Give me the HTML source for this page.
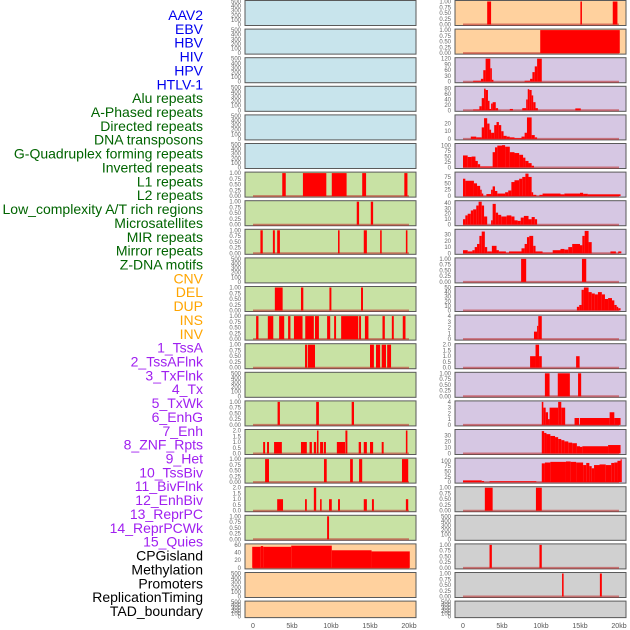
<!DOCTYPE html>
<html><head><meta charset="utf-8"><style>
html,body{margin:0;padding:0;background:#fff;width:630px;height:630px;overflow:hidden}
svg{display:block;font-family:"Liberation Sans",sans-serif}
</style></head><body>
<svg id="chart" width="630" height="630" viewBox="0 0 630 630" xmlns="http://www.w3.org/2000/svg"></svg>
<script>
const trackLabels=["AAV2","EBV","HBV","HIV","HPV","HTLV-1","Alu repeats","A-Phased repeats","Directed repeats","DNA transposons","G-Quadruplex forming repeats","Inverted repeats","L1 repeats","L2 repeats","Low_complexity A/T rich regions","Microsatellites","MIR repeats","Mirror repeats","Z-DNA motifs","CNV","DEL","DUP","INS","INV","1_TssA","2_TssAFlnk","3_TxFlnk","4_Tx","5_TxWk","6_EnhG","7_Enh","8_ZNF_Rpts","9_Het","10_TssBiv","11_BivFlnk","12_EnhBiv","13_ReprPC","14_ReprPCWk","15_Quies","CPGisland","Methylation","Promoters","ReplicationTiming","TAD_boundary"];
const labelColors=[].concat(Array(6).fill("#0000ee"),Array(13).fill("#006400"),Array(5).fill("#ffa500"),Array(15).fill("#a020f0"),Array(5).fill("#000000"));
const xTickKb=[0,5,10,15,20];
const xTickLabels=["0","5kb","10kb","15kb","20kb"];
const T_EMPTY=["0","100","200","300","400","500"], T_UNIT=["0.00","0.25","0.50","0.75","1.00"], T_TWO=["0.0","0.5","1.0","1.5","2.0"];
const leftBg=["b","b","b","b","b","b","g","g","g","g","g","g","g","g","g","g","g","g","g","o","o","o"];
const rightBg=["o","o","p","p","p","p","p","p","p","p","p","p","p","p","p","p","p","k","k","k","k","k"];
const leftMax=[500,500,500,500,500,500,1,1,1,500,1,1,1,500,1,2,1,2,1,60,500,500];
const leftTicks=[T_EMPTY,T_EMPTY,T_EMPTY,T_EMPTY,T_EMPTY,T_EMPTY,T_UNIT,T_UNIT,T_UNIT,T_EMPTY,T_UNIT,T_UNIT,T_UNIT,T_EMPTY,T_UNIT,T_TWO,T_UNIT,T_TWO,T_UNIT,["0","20","40","60"],T_EMPTY,T_EMPTY];
const leftSegs=[[],[],[],[],[],[],
[[3.75,4.2,1],[6.4,9.4,1],[10.1,12.0,1],[14.0,14.5,1],[19.4,19.8,1]],
[[13.3,13.6,1],[15.1,15.4,1]],
[[0.95,1.25,1],[2.55,2.8,1],[3.1,3.45,1],[10.9,11.1,1],[14.2,14.6,1],[16.3,16.5,1],[19.6,19.8,1]],
[],
[[2.8,3.8,1],[6.15,6.45,1],[9.8,10.05,1],[13.85,14.1,1]],
[[0.4,0.7,1],[1.9,2.6,1],[3.35,4.0,1],[4.5,4.8,1],[5.25,6.35,1],[6.7,7.8,1],[7.95,8.45,1],[9.5,9.9,1],[10.4,10.65,1],[11.3,13.5,1],[13.6,13.85,1],[14.35,14.8,1],[16.6,16.9,1],[17.8,18.05,1],[19.2,19.55,1]],
[[6.67,6.96,1],[7.05,7.95,1],[15.0,15.5,1],[15.77,16.3,1],[16.5,17.05,1],[17.2,17.7,1]],
[],
[[3.15,3.45,1],[8.1,8.45,1],[12.65,12.95,1]],
[[1.3,1.55,1],[1.8,2.05,1],[2.7,3.7,1],[6.15,6.9,1],[7.25,7.55,1],[7.8,8.1,1],[8.2,8.4,2],[8.6,9.0,1],[9.1,9.35,1],[10.75,11.8,1],[11.85,12.1,2],[13.55,13.85,1],[14.2,14.6,1],[15.0,15.4,1],[16.5,16.75,1],[19.6,19.8,2]],
[[1.55,2.05,1],[9.1,9.45,1],[12.45,12.8,1],[13.6,14.0,1],[19.1,19.9,1]],
[[3.1,3.85,1],[6.67,6.9,1],[7.8,8.1,2],[8.6,8.8,1],[9.75,10.1,1],[10.9,11.15,1],[14.2,14.6,1],[15.25,15.5,1],[19.6,19.9,1]],
[[9.5,9.75,1]],
[[-0.1,1.0,55],[1.0,1.3,57],[1.3,4.9,55],[4.9,10.1,58],[10.1,15.2,46],[15.2,20.1,43]],
[],[]];
const rightMax=[1,1,120,85,30,105,90,42,37,1,50,4,2,1,4,38,108,1,500,1,1,500];
const rightTicks=[T_UNIT,T_UNIT,["0","30","60","90","120"],["0","20","40","60","80"],["0","10","20"],["0","25","50","75","100"],["0","25","50","75"],["0","10","20","30","40"],["0","10","20","30"],T_UNIT,["0","10","20","30","40","50"],["0","1","2","3","4"],T_TWO,T_UNIT,["0","1","2","3","4"],["0","10","20","30"],["0","25","50","75","100"],T_UNIT,T_EMPTY,T_UNIT,T_UNIT,T_EMPTY];
const rightSegs=[
[[3.1,3.6,1],[15.05,15.25,1],[19.2,19.8,1]],
[[9.9,20.1,1]],
[[1.3,2.3,5],[2.3,2.6,15],[2.6,2.9,60],[2.9,3.5,120],[3.5,3.7,70],[3.7,3.9,10],[7.9,8.6,5],[8.6,8.9,15],[8.9,9.2,50],[9.2,9.5,80],[9.5,10.1,120]],
[[1.3,2.1,3],[2.1,2.4,15],[2.4,2.7,45],[2.7,2.9,80],[2.9,3.2,75],[3.2,3.4,35],[3.4,3.6,5],[3.6,3.8,25],[3.8,4.2,30],[4.2,4.5,8],[6.0,6.4,5],[7.6,8.1,8],[8.1,8.3,40],[8.3,8.5,78],[8.5,8.8,75],[8.8,9.0,55],[9.0,9.3,30],[9.3,9.6,8],[14.4,15.1,7]],
[[1.0,1.7,3],[1.7,2.4,2],[2.4,2.7,15],[2.7,3.1,27],[3.1,3.4,20],[3.4,3.6,12],[3.6,4.0,8],[4.0,4.3,18],[4.3,4.6,22],[4.6,4.9,18],[4.9,5.2,10],[5.2,5.6,4],[5.6,6.0,3],[6.0,6.6,2],[6.6,7.5,1],[7.5,7.9,3],[7.9,8.2,8],[8.2,8.8,28],[8.8,9.2,5],[9.2,9.5,2]],
[[0,0.6,55],[0.6,1.1,48],[1.1,1.6,50],[1.6,1.9,30],[1.9,2.2,15],[2.2,3.8,5],[3.8,4.1,70],[4.1,4.4,92],[4.4,5.0,100],[5.0,5.4,102],[5.4,6.0,95],[6.0,6.6,70],[6.6,7.2,66],[7.2,7.7,58],[7.7,8.0,45],[8.0,8.4,30],[8.4,8.8,20],[8.8,9.1,8]],
[[0,0.3,68],[0.3,1.4,60],[1.4,1.8,50],[1.8,2.2,40],[2.2,2.4,25],[2.4,2.6,10],[3.0,3.6,8],[3.6,3.8,25],[3.8,4.1,38],[4.1,4.4,20],[4.4,5.4,10],[5.4,5.8,15],[5.8,6.2,22],[6.2,6.6,55],[6.6,7.2,62],[7.2,7.6,68],[7.6,8.0,75],[8.0,8.4,88],[8.4,8.8,75],[8.8,9.0,15],[9.0,9.4,5],[9.8,10.2,5],[10.2,12.5,10],[12.5,13.0,7],[13.0,15.0,10],[15.0,15.4,13],[15.4,16.0,9],[16.0,20.2,7]],
[[0,0.3,10],[0.3,0.6,17],[0.6,1.0,20],[1.0,1.3,26],[1.3,1.7,28],[1.7,2.0,35],[2.0,2.4,42],[2.4,2.7,35],[2.7,3.1,15],[3.6,3.8,8],[3.8,4.2,38],[4.2,4.5,22],[4.5,4.9,18],[4.9,5.6,15],[5.6,6.2,17],[6.2,6.6,15],[6.6,7.0,8],[7.0,7.4,7],[7.4,7.8,13],[7.8,8.4,16],[8.4,8.8,10],[8.8,9.2,14],[9.2,9.5,10]],
[[0,0.6,5],[0.6,1.2,3],[1.2,1.5,5],[1.5,1.8,10],[1.8,2.1,15],[2.1,2.4,28],[2.4,2.8,35],[2.8,3.1,10],[3.1,3.7,3],[3.7,4.3,12],[4.3,4.6,5],[4.6,5.5,3],[5.5,5.9,1],[5.9,7.5,3],[7.5,7.9,8],[7.9,8.2,15],[8.2,8.5,26],[8.5,9.0,28],[9.0,9.3,12],[9.3,10.2,3],[10.2,11.5,1],[11.5,12.5,5],[12.5,13.0,7],[13.0,13.5,6],[13.5,14.0,10],[14.0,15.0,15],[15.0,15.3,13],[15.3,15.6,28],[15.6,16.1,36],[16.1,16.5,18],[18.9,19.6,3],[19.9,20.3,3]],
[[7.45,8.1,1],[15.25,15.8,1]],
[[14.6,14.9,8],[14.9,15.2,12],[15.2,15.5,45],[15.5,16.1,50],[16.1,16.5,40],[16.5,16.9,37],[16.9,17.3,35],[17.3,17.8,40],[17.8,18.2,35],[18.2,18.6,25],[18.6,19.1,27],[19.1,19.4,22],[19.4,19.7,12],[19.7,19.9,8],[19.9,20.2,5]],
[[9.1,9.5,1.3],[9.5,9.65,2.3],[9.65,10.1,4]],
[[8.6,9.3,1],[9.3,9.75,2],[9.75,10.1,1],[14.5,14.95,1]],
[[10.5,11.1,1],[12.15,13.7,1],[14.75,15.15,1]],
[[10.1,10.3,4],[10.3,10.6,3],[10.6,10.9,2.2],[10.9,11.1,1],[11.1,12.2,3],[12.2,12.6,4],[12.6,13.1,3],[14.3,14.9,1.2],[15.0,18.8,1.2],[18.8,19.4,2.2],[19.4,20.2,1.2]],
[[10.1,10.4,37],[10.4,10.7,34],[10.7,11.2,32],[11.2,11.8,29],[11.8,12.2,27],[12.2,12.6,24],[12.6,13.0,22],[13.0,13.5,20],[13.5,14.0,18],[14.0,14.6,17],[14.6,15.0,12],[15.0,15.3,11],[15.3,18.6,12],[18.6,20.2,14]],
[[0,2.4,8],[2.4,2.7,5],[3.4,9.4,4],[10.1,10.5,88],[10.5,11.2,92],[11.2,13.2,95],[13.2,13.8,97],[13.8,14.5,95],[14.5,15.4,92],[15.4,15.8,80],[15.8,16.2,90],[16.2,16.5,75],[16.5,16.8,65],[16.8,17.5,80],[17.5,18.3,83],[18.3,19.0,80],[19.0,19.4,90],[19.4,19.8,92],[19.8,20.2,100],[20.2,20.3,107]],
[[2.8,3.8,1],[9.35,10.1,1]],
[],
[[3.4,3.7,1],[9.8,10.1,1]],
[[12.7,12.9,1],[17.55,17.8,1]],
[]];

const NS="http://www.w3.org/2000/svg";
const svg=document.getElementById('chart');
const bgColors={b:"#c8e4ec",g:"#c8e2a4",o:"#ffd19e",p:"#d6c7e3",k:"#d0d0d0"};
function mk(tag,attrs,parent){const e=document.createElementNS(NS,tag);for(const k in attrs)e.setAttribute(k,attrs[k]);(parent||svg).appendChild(e);return e;}
function rowTop(i){return i*28.6+0.5;}
function rowH(i){return i===21?16.5:25;}
function xScale(col,kb){return (col===0?253:463)+kb*7.8;}

trackLabels.forEach((t,i)=>{
  const e=mk('text',{x:203,y:20+i*13.86,'text-anchor':'end','font-size':'14',fill:labelColors[i]});
  
  
  e.textContent=t;
});

function drawPanel(col,i,bg,segs,max,ticks){
  const x0=col===0?245:455, w=171, top=rowTop(i), h=rowH(i);
  const g=mk('g',{});
  
  
  mk('rect',{x:x0+0.5,y:top+0.5,width:w,height:h,fill:'#999',opacity:0.5},g);
  mk('rect',{x:x0,y:top,width:w,height:h,fill:bgColors[bg],stroke:'#5a5a5a','stroke-width':1},g);
  const bot=top+h-1, ph=h-2;
  const yS=v=>bot-v/max*ph;
  if(segs.length){
    mk('line',{x1:xScale(col,0),x2:xScale(col,20),y1:bot,y2:bot,stroke:'rgba(190,40,40,0.55)','stroke-width':2},g);
  }
  segs.forEach(s=>{
    const xa=Math.max(x0+1,xScale(col,s[0])), xb=Math.min(x0+w-1,xScale(col,s[1]));
    const r=mk('rect',{x:xa,y:yS(s[2]),width:Math.max(1.2,xb-xa),height:bot-yS(s[2]),fill:'#ff0000'},g);
    
    
  });
  const n=ticks.length;
  ticks.forEach((t,j)=>{
    const v=max*(j/(n-1))*(ticks===T_EMPTY||max===60||max===1||max===2?1:parseFloat(t)/(max*(j/(n-1))||1));
    const val=parseFloat(t);
    const tx=mk('text',{x:x0-4,y:yS(val)+2,'text-anchor':'end','font-size':'6',fill:'#666'},g);
    
    
    tx.textContent=t;
  });
}
for(let i=0;i<22;i++){
  drawPanel(0,i,leftBg[i],leftSegs[i],leftMax[i],leftTicks[i]);
  drawPanel(1,i,rightBg[i],rightSegs[i],rightMax[i],rightTicks[i]);
}
[0,1].forEach(col=>{
  xTickKb.forEach((kb,j)=>{
    const t=mk('text',{x:xScale(col,kb),y:628,'text-anchor':'middle','font-size':'7',fill:'#555'});
    
    
    t.textContent=xTickLabels[j];
  });
});
</script>
</body></html>
